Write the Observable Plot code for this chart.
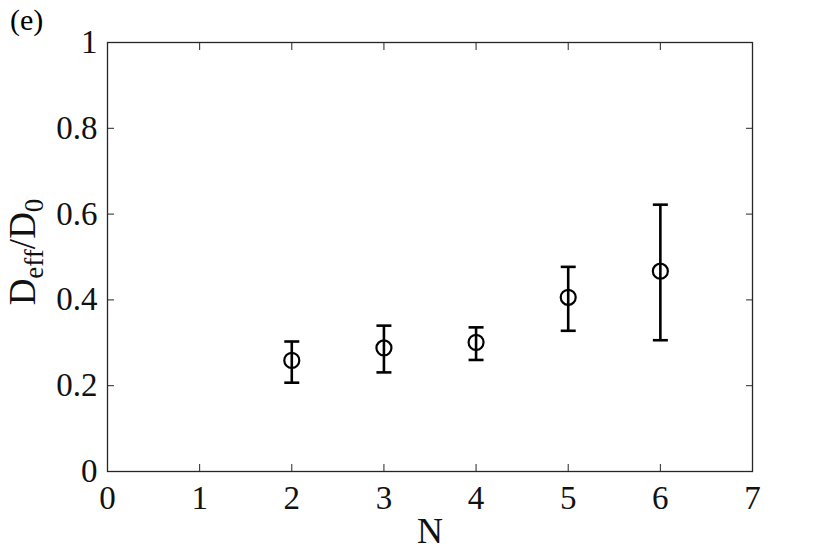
<!DOCTYPE html>
<html><head><meta charset="utf-8">
<script src="https://cdn.jsdelivr.net/npm/d3@7"></script>
<script src="https://cdn.jsdelivr.net/npm/@observablehq/plot@0.6"></script>
<style>body{margin:0;background:#fff;} #chart{width:830px;height:555px;}</style>
</head><body><div id="chart"></div>
<script>
const N = [2, 3, 4, 5, 6];
const ratio = [0.259, 0.288, 0.301, 0.406, 0.467];
const upper = [0.303, 0.340, 0.336, 0.477, 0.622];
const lower = [0.207, 0.231, 0.260, 0.328, 0.306];
const xTicks = [0, 1, 2, 3, 4, 5, 6, 7];
const yTicks = [0, 0.2, 0.4, 0.6, 0.8, 1];
const xLabel = "N";
const panelTag = "(e)";

const data = N.map((n, i) => ({n, v: ratio[i], hi: upper[i], lo: lower[i]}));
const font = "'Liberation Serif', 'Times New Roman', serif";
const axisColor = "#262626";
const capSymbol = {draw(ctx, size) { const r = Math.sqrt(size / Math.PI); ctx.moveTo(-r, 0); ctx.lineTo(r, 0); }};

const plot = Plot.plot({
  width: 830, height: 555,
  marginLeft: 107, marginRight: 78, marginTop: 42, marginBottom: 84,
  style: {fontFamily: font, background: "#fff", color: axisColor, overflow: "visible"},
  x: {domain: [0, 7], ticks: xTicks, label: null},
  y: {domain: [0, 1], ticks: yTicks, label: null},
  marks: [
    Plot.axisX(xTicks, {anchor: "bottom", tickSize: -7, tickFormat: () => "", label: null, stroke: axisColor}),
    Plot.axisX(xTicks, {anchor: "top", tickSize: -7, tickFormat: () => "", label: null, stroke: axisColor}),
    Plot.axisY(yTicks, {anchor: "left", tickSize: -7, tickFormat: () => "", label: null, stroke: axisColor}),
    Plot.axisY(yTicks, {anchor: "right", tickSize: -7, tickFormat: () => "", label: null, stroke: axisColor}),
    Plot.axisX(xTicks, {anchor: "bottom", tickSize: 0, tickPadding: 14, fontSize: 33, label: null, fill: "#111", tickFormat: d => String(d)}),
    Plot.axisY(yTicks, {anchor: "left", tickSize: 0, tickPadding: 10, fontSize: 33, label: null, fill: "#111", tickFormat: d => String(d)}),
    Plot.frame({stroke: axisColor, strokeWidth: 1.3}),
    Plot.ruleX(data, {x: "n", y1: "lo", y2: "hi", stroke: "#000", strokeWidth: 2.6}),
    Plot.dot(data, {x: "n", y: "hi", symbol: capSymbol, r: 7.5, fill: "none", stroke: "#000", strokeWidth: 2.6}),
    Plot.dot(data, {x: "n", y: "lo", symbol: capSymbol, r: 7.5, fill: "none", stroke: "#000", strokeWidth: 2.6}),
    Plot.dot(data, {x: "n", y: "v", r: 7.5, fill: "none", stroke: "#000", strokeWidth: 2.2}),
    Plot.text([xLabel], {text: d => d, frameAnchor: "bottom", dy: 71, fontSize: 36, fill: "#111"})
  ]
});
document.getElementById("chart").appendChild(plot);

const svg = d3.select(plot);
const yl = svg.append("text")
  .attr("transform", "translate(35,252) rotate(-90)")
  .attr("text-anchor", "middle")
  .attr("font-family", font)
  .attr("font-size", 37)
  .attr("fill", "#111");
yl.append("tspan").text("D");
yl.append("tspan").attr("font-size", 27).attr("dy", 8).text("eff");
yl.append("tspan").attr("dy", -8).text("/D");
yl.append("tspan").attr("font-size", 27).attr("dy", 8).text("0");

svg.append("text")
  .attr("x", 10).attr("y", 30)
  .attr("text-anchor", "start")
  .attr("font-family", font)
  .attr("font-size", 30)
  .attr("fill", "#000")
  .text(panelTag);
</script>
</body></html>
